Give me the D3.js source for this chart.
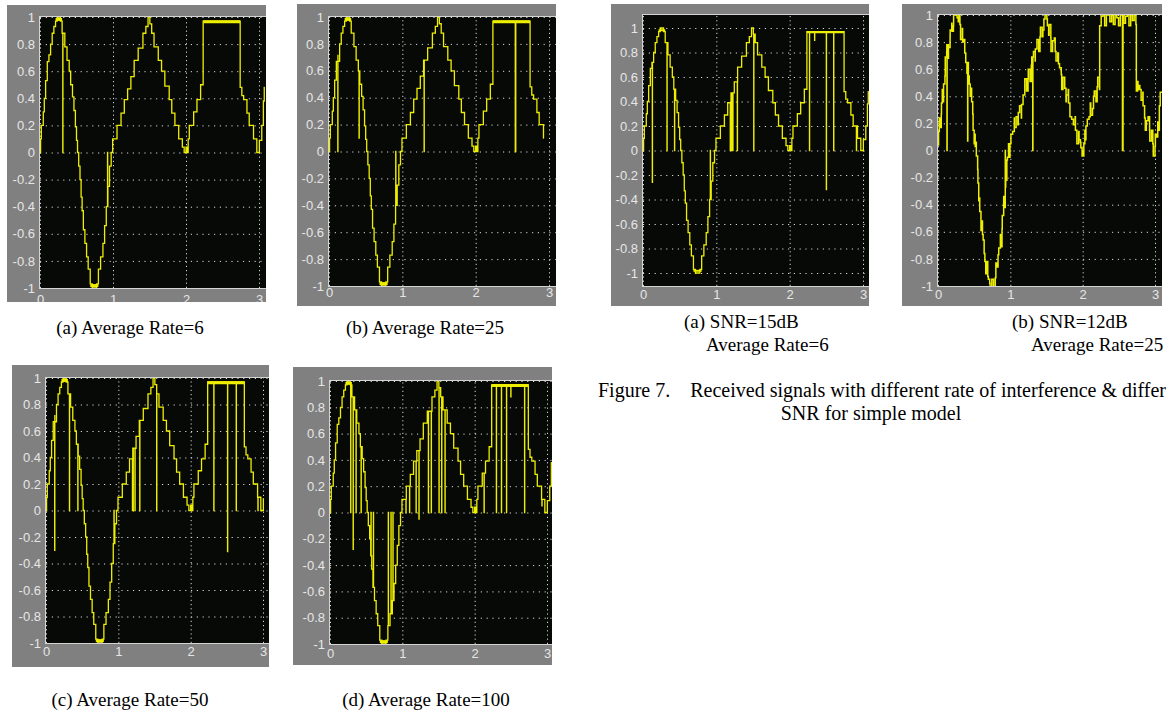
<!DOCTYPE html>
<html>
<head>
<meta charset="utf-8">
<script src="https://cdn.jsdelivr.net/npm/d3@7"></script>
<style>
  body { margin: 0; background: #fff; }
  svg { display: block; }
  .cap { font-family: "Liberation Serif", "Times New Roman", serif; font-size: 19px; fill: #000; }
  .cap.fig { font-size: 20px; }
  .tick text { font-family: "Liberation Sans", Arial, sans-serif; font-size: 13px; fill: #e6e6e6; }
</style>
</head>
<body>
<div id="chart"></div>
<script>
// tick values
const xTicks = [0, 1, 2, 3];
const yTicks = [-1, -0.8, -0.6, -0.4, -0.2, 0, 0.2, 0.4, 0.6, 0.8, 1];

// received staircase signal: [time, level], level holds until next time
const baseSteps = [
  [0.000, 0.00], [0.008, 0.10], [0.018, 0.20], [0.045, 0.30], [0.059, 0.40], [0.077, 0.53],
  [0.100, 0.67], [0.122, 0.72], [0.145, 0.80], [0.167, 0.88], [0.190, 0.93], [0.213, 0.97],
  [0.235, 1.00], [0.280, 0.97], [0.303, 0.88], [0.340, 0.78],
  [0.370, 0.68], [0.400, 0.60], [0.420, 0.50], [0.445, 0.41], [0.465, 0.31], [0.485, 0.19],
  [0.500, 0.09], [0.514, 0.00], [0.530, -0.10], [0.548, -0.20], [0.563, -0.33], [0.577, -0.43],
  [0.594, -0.57], [0.615, -0.67], [0.638, -0.77], [0.660, -0.86], [0.688, -0.97], [0.715, -1.00],
  [0.775, -0.97], [0.800, -0.86],
  [0.830, -0.77], [0.862, -0.67], [0.885, -0.54], [0.908, -0.40], [0.930, -0.25], [0.952, -0.10],
  [0.975, 0.00], [0.995, 0.10], [1.055, 0.20], [1.110, 0.29], [1.155, 0.39], [1.200, 0.47],
  [1.245, 0.56], [1.290, 0.68], [1.345, 0.77], [1.410, 0.88], [1.450, 0.93], [1.480, 1.00],
  [1.505, 0.95], [1.530, 0.88], [1.562, 0.78], [1.620, 0.68], [1.665, 0.60], [1.710, 0.49],
  [1.770, 0.39], [1.805, 0.29], [1.848, 0.20], [1.900, 0.10], [1.950, 0.04], [1.975, 0.00],
  [2.000, 0.04], [2.015, 0.00], [2.030, 0.10], [2.045, 0.20], [2.105, 0.30], [2.150, 0.39],
  [2.200, 0.50], [2.235, 0.97], [2.742, 0.48], [2.765, 0.42],
  [2.790, 0.39], [2.835, 0.29], [2.866, 0.20], [2.925, 0.10], [2.970, 0.00], [3.005, 0.09],
  [3.038, 0.20], [3.060, 0.38], [3.072, 0.48]
];

// stretches where the trace flickers between two close levels: [from, to, mid level]
const heldSpans = [[0.213, 0.303, 0.982], [0.688, 0.800, -0.982], [2.235, 2.742, 0.965]];

// interference hits per panel: [time, level the trace drops to]
const spikesRate6 = [[0.312, 0], [0.925, 0]];
const spikesRate25 = [[0.120, 0], [0.410, 0.10], [0.910, 0], [1.297, 0], [2.540, 0], [2.545, 0]];
const spikesRate50 = [
  [0.120, -0.30], [0.324, 0], [0.440, 0], [0.940, 0], [1.195, 0], [1.205, 0], [1.230, 0],
  [1.296, 0], [1.530, 0], [2.320, 0], [2.510, -0.31], [2.630, 0], [2.930, 0]
];
const spikesRate100 = [
  [0.286, 0], [0.320, -0.28], [0.360, 0], [0.430, 0], [0.567, 0], [0.600, 0], [0.806, 0],
  [0.843, 0], [0.870, 0], [1.050, 0], [1.100, 0], [1.190, 0], [1.230, -0.05], [1.360, 0],
  [1.400, 0], [1.507, 0], [1.544, 0], [1.590, 0], [2.130, 0], [2.300, 0], [2.370, 0],
  [2.440, 0], [2.500, 0.88], [2.690, 0], [2.930, 0.05]
];
const spikesSnr15 = [
  [0.127, -0.26], [0.327, 0], [0.430, 0], [0.918, 0], [1.190, 0], [1.210, 0], [1.225, 0],
  [1.286, 0], [1.510, 0], [2.270, 0], [2.340, 0.90], [2.500, -0.32], [2.600, 0], [2.910, 0]
];
const spikesSnr12 = [[0.124, 0], [0.410, 0.07], [0.930, 0], [1.310, 0], [2.550, 0], [2.556, 0]];

// additive noise of the 12 dB trace, one value per 0.024 s
const noiseStep = 0.024;
const noiseSnr12 = [
  0.04, -0.03, 0.05, -0.04, 0.02, 0.06, -0.04, 0.01, -0.05, 0.04, 0.03, -0.02, 0.05, -0.06, 0.02, 0.04, -0.03, 0.05, -0.01, 0.05,
  -0.04, 0.03, 0.06, -0.04, -0.02, 0.05, 0.01, -0.05, 0.04, 0.02, -0.03, 0.05, -0.04, 0.03, 0.00, 0.05, -0.04, 0.06, -0.02, 0.03,
  0.05, -0.05, 0.02, 0.04, -0.03, 0.05, -0.01, 0.04, -0.05, 0.02, 0.06, -0.03, 0.04, -0.05, 0.01, 0.05, -0.02, 0.05, -0.04, 0.03,
  -0.04, 0.04, 0.02, -0.03, 0.05, -0.05, 0.03, 0.05, -0.02, 0.04, 0.01, -0.04, 0.05, -0.03, 0.02, 0.06, -0.04, 0.03, -0.01, 0.05,
  -0.05, 0.04, 0.02, -0.04, 0.05, -0.02, 0.03, 0.05, -0.04, 0.01, 0.05, -0.03, 0.04, -0.05, 0.02, 0.06, -0.05, 0.03, 0.05, -0.02,
  0.04, -0.04, 0.05, 0.01, -0.05, 0.03, 0.05, -0.03, 0.02, 0.05, -0.05, 0.04, -0.01, 0.05, -0.04, 0.03, 0.06, -0.02, 0.04, -0.05,
  0.02, 0.05, -0.03, 0.05, -0.04, 0.03, 0.01, -0.05
];

// panel layout (frame = grey scope window, plot = black area, x3 = pixel of t=3, y1/ym1 = pixels of +1/-1)
const panels = [
  { frame: [7, 5, 259, 297], plot: [40, 17, 266, 288], x3: 259, y1: 17, ym1: 288, labDy: 13, held: 3, spikes: spikesRate6, tEnd: 3.08 },
  { frame: [297, 4, 259, 302], plot: [329, 17, 556, 286], x3: 549, y1: 17, ym1: 286, labDy: 8, held: 3, spikes: spikesRate25, tEnd: 2.93 },
  { frame: [611, 4, 258, 302], plot: [643, 15, 869, 286], x3: 863, y1: 28, ym1: 273, labDy: 10, held: 2, spikes: spikesSnr15, tEnd: 3.08 },
  { frame: [902, 4, 260, 302], plot: [938, 15, 1162, 286], x3: 1155, y1: 15, ym1: 286, labDy: 10, held: 0, spikes: spikesSnr12, tEnd: 3.1, noise: noiseSnr12 },
  { frame: [12, 365, 257, 302], plot: [46, 378, 269, 643], x3: 263, y1: 378, ym1: 643, labDy: 10, held: 3, spikes: spikesRate50, tEnd: 3.01 },
  { frame: [293, 367, 259, 298], plot: [330, 381, 552, 644], x3: 547, y1: 381, ym1: 644, labDy: 11, held: 3, spikes: spikesRate100, tEnd: 3.07 }
];

const W = 1167, H = 715;
const svg = d3.select('#chart').append('svg')
  .attr('width', W)
  .attr('height', H);

const levelAt = t => {
  let v = baseSteps[0][1];
  for (const s of baseSteps) {
    if (s[0] <= t + 1e-9) v = s[1]; else break;
  }
  return v;
};

const buildTrace = p => {
  let times = baseSteps.map(d => d[0]);
  if (p.noise) p.noise.forEach((_, i) => times.push(+(i * noiseStep).toFixed(4)));
  times = Array.from(new Set(times)).filter(t => t <= p.tEnd).sort((a, b) => a - b);
  const value = t => {
    let v = levelAt(t);
    if (p.noise) {
      const k = Math.min(p.noise.length - 1, Math.floor(t / noiseStep + 1e-6));
      v = Math.min(1, v + p.noise[k]);
    }
    return v;
  };
  const pts = times.map(t => [t, value(t)]);
  p.spikes.forEach(([t, v]) => {
    pts.push([t, v]);
    pts.push([t + 0.002, value(t)]);
  });
  pts.sort((a, b) => a[0] - b[0]);
  pts.push([p.tEnd, value(p.tEnd)]);
  return pts;
};

const fmt = v => String(+v.toFixed(1));

panels.forEach((p, i) => {
  const [fx, fy, fw, fh] = p.frame;
  const [pl, pt, pr, pb] = p.plot;

  const x = d3.scaleLinear().domain([0, 3]).range([pl, p.x3]);
  const y = d3.scaleLinear().domain([-1, 1]).range([p.ym1, p.y1]);

  svg.append('clipPath').attr('id', 'frame' + i)
    .append('rect').attr('x', fx).attr('y', fy).attr('width', fw).attr('height', fh);
  svg.append('clipPath').attr('id', 'plot' + i)
    .append('rect').attr('x', pl).attr('y', pt).attr('width', pr - pl).attr('height', pb - pt);

  const g = svg.append('g').attr('clip-path', `url(#frame${i})`);

  g.append('rect')
    .attr('x', fx).attr('y', fy).attr('width', fw).attr('height', fh)
    .attr('fill', '#808080');

  g.append('rect')
    .attr('x', pl).attr('y', pt).attr('width', pr - pl).attr('height', pb - pt)
    .attr('fill', '#060906');

  const grid = g.append('g').attr('clip-path', `url(#plot${i})`);

  grid.append('g')
    .attr('transform', `translate(${pl},0)`)
    .call(d3.axisLeft(y).tickValues(yTicks).tickSize(-(pr - pl)).tickFormat(''))
    .call(s => s.select('.domain').remove())
    .selectAll('line')
      .attr('stroke', '#d8d8d8')
      .attr('stroke-width', 1)
      .attr('stroke-dasharray', '1.2,4.6');

  grid.append('g')
    .attr('transform', `translate(0,${pb})`)
    .call(d3.axisBottom(x).tickValues(xTicks).tickSize(-(pb - pt)).tickFormat(''))
    .call(s => s.select('.domain').remove())
    .selectAll('line')
      .attr('stroke', '#d8d8d8')
      .attr('stroke-width', 1)
      .attr('stroke-dasharray', '1.2,3');

  const line = d3.line()
    .x(d => x(d[0]))
    .y(d => y(d[1]))
    .curve(d3.curveStepAfter);

  grid.append('path')
    .datum(buildTrace(p))
    .attr('fill', 'none')
    .attr('stroke', '#eeee00')
    .attr('stroke-width', p.noise ? 1.5 : 1.3)
    .attr('stroke-linejoin', 'miter')
    .attr('d', line);

  if (p.held) {
    grid.selectAll('line.held')
      .data(heldSpans.filter(d => d[0] < p.tEnd))
      .join('line')
        .attr('class', 'held')
        .attr('x1', d => x(d[0]))
        .attr('x2', d => x(d[1]))
        .attr('y1', d => y(d[2]))
        .attr('y2', d => y(d[2]))
        .attr('stroke', '#eeee00')
        .attr('stroke-width', p.held);
  }

  // plot box edges
  g.append('rect')
    .attr('x', pl - 0.5).attr('y', pt - 0.5).attr('width', pr - pl + 1).attr('height', pb - pt + 1)
    .attr('fill', 'none')
    .attr('stroke', '#d4d4d4')
    .attr('stroke-width', 1);

  g.append('g')
    .attr('transform', `translate(${pl - 1},0)`)
    .call(d3.axisLeft(y).tickValues(yTicks).tickSize(0).tickPadding(4).tickFormat(fmt))
    .call(s => s.select('.domain').remove());

  g.append('g')
    .attr('transform', `translate(0,${pb + p.labDy - 6})`)
    .call(d3.axisBottom(x).tickValues(xTicks).tickSize(0).tickPadding(0).tickFormat(d3.format('d')))
    .call(s => s.select('.domain').remove());
});

// sub captions and figure caption
const caps = [
  { text: '(a) Average Rate=6', x: 130, y: 334, anchor: 'middle' },
  { text: '(b) Average Rate=25', x: 425, y: 334, anchor: 'middle' },
  { text: '(c) Average Rate=50', x: 130, y: 706, anchor: 'middle' },
  { text: '(d) Average Rate=100', x: 426, y: 706, anchor: 'middle' },
  { text: '(a) SNR=15dB', x: 684, y: 328, anchor: 'start' },
  { text: 'Average Rate=6', x: 706, y: 351, anchor: 'start' },
  { text: '(b) SNR=12dB', x: 1012, y: 328, anchor: 'start' },
  { text: 'Average Rate=25', x: 1031, y: 351, anchor: 'start' },
  { text: 'Figure 7.', x: 598, y: 397, anchor: 'start', fig: true },
  { text: 'Received signals with different rate of interference & differ', x: 1166, y: 397, anchor: 'end', fig: true },
  { text: 'SNR for simple model', x: 871, y: 420, anchor: 'middle', fig: true }
];

svg.selectAll('text.cap')
  .data(caps)
  .join('text')
    .attr('class', d => d.fig ? 'cap fig' : 'cap')
    .attr('x', d => d.x)
    .attr('y', d => d.y)
    .attr('text-anchor', d => d.anchor)
    .text(d => d.text);
</script>
</body>
</html>
